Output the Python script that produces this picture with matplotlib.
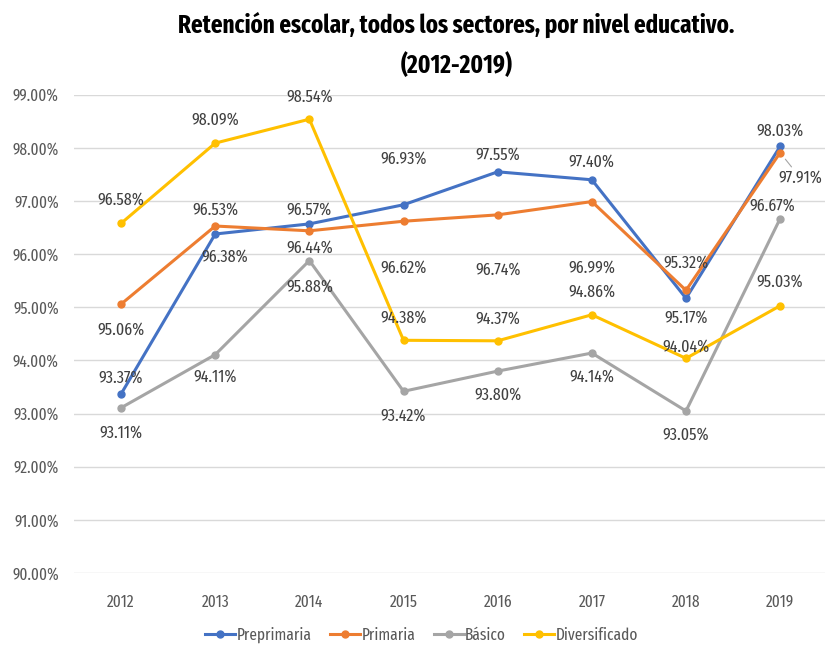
import matplotlib
matplotlib.use("Agg")
import matplotlib.pyplot as plt
import numpy as np

plt.rcParams['font.family'] = ['Fira Sans Extra Condensed', 'DejaVu Sans']

years = ["2012", "2013", "2014", "2015", "2016", "2017", "2018", "2019"]
preprimaria = [93.37, 96.38, 96.57, 96.93, 97.55, 97.40, 95.17, 98.03]
primaria = [95.06, 96.53, 96.44, 96.62, 96.74, 96.99, 95.32, 97.91]
basico = [93.11, 94.11, 95.88, 93.42, 93.80, 94.14, 93.05, 96.67]
diversificado = [96.58, 98.09, 98.54, 94.38, 94.37, 94.86, 94.04, 95.03]
y_ticks = [90, 91, 92, 93, 94, 95, 96, 97, 98, 99]

# label offsets in pixels (dx, dy) for each point
off_pre = [(0, 16), (10, -23), (0, 14), (0, 46), (0, 17), (0, 18), (0, -20), (0, 15)]
off_pri = [(0, -26), (0, 16), (0, -17), (0, -47), (0, -55), (0, -66), (0, 27), (20, -25)]
off_bas = [(0, -25), (0, -22), (0, -26), (0, -25), (0, -24), (0, -24), (0, -24), (-8, 13)]
off_div = [(0, 23), (0, 23), (0, 22), (0, 22), (0, 22), (0, 23), (0, 11), (0, 24)]

series = [
    ("Preprimaria", preprimaria, "#4472C4", off_pre),
    ("Primaria", primaria, "#ED7D31", off_pri),
    ("Básico", basico, "#A5A5A5", off_bas),
    ("Diversificado", diversificado, "#FFC000", off_div),
]

fig = plt.figure(figsize=(8.25, 6.49), dpi=100)
ax = fig.add_axes([0.0897, 0.117, 0.913, 0.737])

x = np.arange(len(years))
for name, vals, col, offs in series:
    ax.plot(x, vals, color=col, lw=2.2, marker="o", ms=5, label=name)
for name, vals, col, offs in series:
    for i, v in enumerate(vals):
        dx, dy = offs[i]
        kw = {}
        if name == "Primaria" and i == 7:
            kw = dict(arrowprops=dict(arrowstyle="-", color="#A5A5A5", lw=0.8,
                                      shrinkA=0, shrinkB=6))
        ax.annotate(f"{v:.2f}%", (i, v), xytext=(dx, dy), textcoords="offset pixels",
                    ha="center", va="center", fontsize=12.5, color="#404040", **kw)

ax.set_xlim(-0.5, 7.5)
ax.set_ylim(90, 99)
ax.set_yticks(y_ticks)
ax.set_yticklabels([f"{t:.2f}%" for t in y_ticks])
ax.set_xticks(x)
ax.set_xticklabels(years)
ax.tick_params(length=0, labelsize=12, labelcolor="#595959")
ax.tick_params(axis="x", pad=15)
ax.tick_params(axis="y", pad=11)
ax.grid(axis="y", color="#D9D9D9", lw=1)
ax.set_axisbelow(True)
for s in ax.spines.values():
    s.set_visible(False)

fig.text(0.553, 0.962, "Retención escolar, todos los sectores, por nivel educativo.",
         ha="center", va="center", fontsize=18, fontweight="bold")
fig.text(0.553, 0.899, "(2012-2019)", ha="center", va="center", fontsize=18, fontweight="bold")

fig.legend(loc="center", bbox_to_anchor=(0.511, 0.022), ncol=4, frameon=False,
           fontsize=12, handlelength=1.8, handletextpad=0.1, columnspacing=1.1,
           labelcolor="#595959")

fig.savefig("out.png", dpi=100)
